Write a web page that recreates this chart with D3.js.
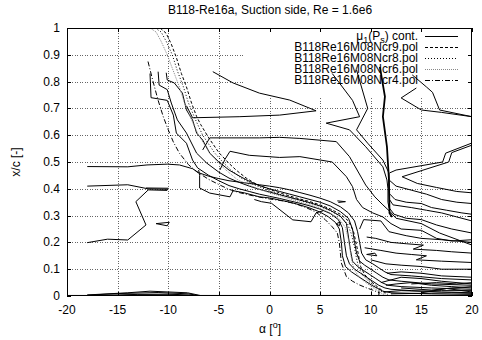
<!DOCTYPE html>
<html><head><meta charset="utf-8">
<script src="https://cdn.jsdelivr.net/npm/d3@7"></script>
<style>body{margin:0;background:#fff}svg{display:block;font-family:"Liberation Sans",Arial,Helvetica,sans-serif}</style>
</head><body><svg id="c" width="482" height="340"></svg>
<script>
// ---- axes / labels ----
const alphaTicks = [-20,-15,-10,-5,0,5,10,15,20];
const xcTicks = [0,0.1,0.2,0.3,0.4,0.5,0.6,0.7,0.8,0.9,1];
const xcTickLabels = ["0","0.1","0.2","0.3","0.4","0.5","0.6","0.7","0.8","0.9","1"];
const titleText = "B118-Re16a, Suction side, Re = 1.6e6";
const polarNames = ["B118Re16M08Ncr9.pol","B118Re16M08Ncr8.pol","B118Re16M08Ncr6.pol","B118Re16M08Ncr4.pol"];

// ---- polar transition curves [alpha, x/c] ----
const ncr9 = [[-10.8,1.0],[-10.2,0.98],[-9.7,0.94],[-9.2,0.89],[-8.7,0.83],[-8.2,0.78],[-7.7,0.72],[-7.2,0.67],[-6.8,0.64],[-6.0,0.59],[-5.0,0.535],[-4.0,0.495],[-3.3,0.47],[-2.3,0.44],[-1.2,0.415],[0,0.398],[1,0.385],[2,0.373],[3,0.362],[4,0.352],[5,0.34],[6,0.325],[7,0.305],[7.8,0.28],[8.3,0.24],[8.6,0.19],[8.8,0.15],[9.0,0.11],[9.4,0.08],[10,0.055],[10.7,0.033],[11.3,0.016],[11.7,0.005]];
const ncr8 = [[-11.3,1.0],[-10.7,0.985],[-10.2,0.95],[-9.6,0.9],[-9.1,0.84],[-8.5,0.78],[-8.0,0.72],[-7.3,0.657],[-6.6,0.6],[-5.4,0.533],[-4.5,0.495],[-3.8,0.47],[-2.8,0.44],[-1.5,0.415],[0,0.392],[1,0.38],[2,0.368],[3,0.357],[4,0.346],[5,0.334],[6,0.318],[7,0.297],[7.7,0.27],[8.1,0.23],[8.4,0.18],[8.6,0.14],[8.8,0.105],[9.2,0.078],[9.8,0.055],[10.5,0.033],[11.1,0.016],[11.5,0.005]];
const ncr6 = [[-11.8,1.0],[-11.2,0.985],[-10.7,0.95],[-10.1,0.9],[-9.5,0.84],[-8.9,0.78],[-8.4,0.72],[-7.7,0.657],[-7.0,0.6],[-5.9,0.533],[-5.0,0.495],[-4.3,0.47],[-3.2,0.435],[-1.8,0.41],[0,0.385],[1,0.374],[2,0.362],[3,0.351],[4,0.34],[5,0.327],[6,0.31],[6.9,0.287],[7.5,0.255],[7.8,0.21],[8.0,0.16],[8.2,0.12],[8.5,0.09],[9.0,0.065],[9.7,0.045],[10.4,0.027],[11,0.012],[11.3,0.004]];
const ncr4 = [[-12.0,0.875],[-11.5,0.80],[-11.0,0.73],[-10.5,0.67],[-10.0,0.62],[-9.5,0.575],[-8.9,0.533],[-8.0,0.49],[-7.2,0.464],[-6,0.435],[-4.9,0.414],[-4,0.398],[-3,0.386],[-2,0.377],[-1,0.369],[0,0.362],[1.3,0.355],[2.5,0.345],[3.6,0.33],[4.6,0.313],[5.5,0.285],[6.2,0.258],[6.7,0.235],[6.9,0.198],[7.0,0.16],[7.1,0.123],[7.6,0.072],[8.2,0.055],[8.9,0.041],[9.6,0.03],[10.2,0.022],[10.9,0.011]];

// ---- mu1(Ps) contour lines [alpha, x/c] ----
const leftContours = [
  [[-18,0.41],[-14,0.415],[-12,0.40],[-10,0.398]],
  [[-12.2,0.403],[-10,0.402]],
  [[-12,0.396],[-10.1,0.394]],
  [[-12,0.395],[-13.2,0.352],[-12.2,0.265],[-14,0.209],[-16,0.212],[-18,0.199]],
  [[-11.2,0.27],[-9.9,0.275],[-10.1,0.262],[-11.2,0.27]],
  [[-18,0.004],[-14,0.012],[-11.8,0.018],[-8.1,0.012],[-6.6,0.0]],
  [[-18,0.003],[-15,0.009],[-11,0.013],[-8,0.008],[-6.9,0.001]],
  [[-17,0.002],[-13,0.006],[-10,0.007],[-7.5,0.003]],
  [[-16,0.001],[-12,0.004],[-9,0.004]]
];
const bandContours = [
  [[-11.8,0.83],[-11.7,0.74],[-10.1,0.73],[-9.5,0.675],[-9.2,0.608],[-8.2,0.57],[-7.6,0.507],[-7.1,0.478],[-6,0.45],[-5,0.43],[-4,0.412],[-3,0.4],[-2,0.39],[-1,0.38],[0,0.372],[1,0.364],[2,0.355],[3,0.346],[4,0.336],[5,0.324],[6,0.308],[6.8,0.285],[7.2,0.255],[7.4,0.2],[7.6,0.15],[7.9,0.12],[8.4,0.1],[9.0,0.085],[9.6,0.07],[10.2,0.055],[10.8,0.04],[11.4,0.03],[12,0.025],[14,0.02],[17,0.015],[20,0.012]],
  [[-11.0,0.837],[-10.9,0.787],[-10.1,0.77],[-9.7,0.72],[-9.1,0.657],[-8.2,0.608],[-7.2,0.533],[-6.2,0.496],[-5,0.462],[-4,0.44],[-3,0.424],[-2,0.41],[-1,0.398],[0,0.388],[1,0.378],[2,0.368],[3,0.358],[4,0.348],[5,0.336],[6,0.32],[7,0.298],[7.6,0.27],[7.8,0.22],[8.0,0.17],[8.2,0.13],[8.7,0.11],[9.3,0.095],[9.9,0.08],[10.5,0.065],[11.1,0.05],[11.7,0.04],[13,0.035],[16,0.03],[20,0.025]],
  [[-10.2,0.833],[-10.1,0.806],[-9.4,0.795],[-8.6,0.757],[-8.2,0.694],[-7.6,0.657],[-7.2,0.608],[-6.6,0.582],[-5.9,0.533],[-5,0.5],[-4,0.47],[-3,0.448],[-2,0.428],[-1,0.412],[0,0.4],[1,0.39],[2,0.38],[3,0.37],[4,0.36],[5,0.35],[6,0.336],[7,0.315],[7.8,0.29],[8.2,0.25],[8.4,0.2],[8.6,0.16],[8.9,0.13],[9.4,0.115],[10,0.1],[10.6,0.085],[11.2,0.07],[11.8,0.06],[13,0.055],[16,0.045],[20,0.04]],
  [[-18,0.483],[-14,0.482],[-12.1,0.489],[-10.1,0.492],[-8.9,0.489],[-7.6,0.475],[-7.0,0.46],[-6,0.447],[-5,0.438],[-4,0.43],[-3,0.425],[-2,0.42],[-1,0.415],[0,0.41],[1,0.404],[2,0.396],[3,0.386],[4,0.376],[5,0.365],[6,0.352],[7,0.333],[7.8,0.31],[8.4,0.28],[8.7,0.24],[8.9,0.2],[9.1,0.16],[9.5,0.135],[10.2,0.12],[10.8,0.105],[11.4,0.09],[12,0.08],[14,0.075],[17,0.065],[20,0.06]],
  [[-7.0,0.47],[-6.9,0.45],[-6.9,0.403],[-5.9,0.384],[-3.9,0.37],[-3.6,0.393],[-2.5,0.385],[-1,0.37],[0,0.366],[1,0.358],[2,0.35],[3,0.34],[4,0.328],[5,0.313],[5.8,0.296],[6.5,0.275],[6.9,0.25],[7.1,0.2],[7.2,0.15],[7.5,0.11],[8.1,0.09],[8.8,0.072],[9.5,0.055],[10.1,0.04],[10.7,0.028],[11.2,0.018],[12,0.012],[16,0.008],[20,0.006]],
  [[-1.5,0.36],[-0.8,0.352],[0.2,0.346],[2.3,0.284],[4.1,0.277],[4.6,0.31],[5.3,0.318]],
  [[6.7,0.355],[7.5,0.352],[6.8,0.349]],
  [[6.6,0.27],[7.0,0.276],[6.9,0.262],[6.6,0.27]]
];
const upperContours = [
  [[-6.6,0.545],[-5.9,0.59],[-1,0.59],[1,0.592],[3,0.588],[6.6,0.576],[7.9,0.52],[9.5,0.414],[10.4,0.37],[11.2,0.34],[11.9,0.315],[12.5,0.29],[15,0.27],[16.8,0.235],[20,0.19]],
  [[-4.9,0.47],[-4.4,0.51],[-3.9,0.54],[-2,0.525],[1,0.517],[3,0.52],[6.2,0.5],[7.6,0.445],[8.2,0.408],[8.6,0.36],[9.2,0.33],[10.2,0.31],[11.2,0.295],[12,0.27],[13,0.25],[15,0.245],[16.5,0.215],[18,0.205],[20,0.21]],
  [[-5.6,0.837],[-3.6,0.795],[-1,0.757],[2,0.731],[4.6,0.691],[1,0.675],[-3,0.669],[-7.6,0.665],[-8.2,0.71]],
  [[6.2,0.83],[8.2,0.73],[8.9,0.669],[5.6,0.645],[7.9,0.62],[9.5,0.557],[11.2,0.482],[11.6,0.433],[11.7,0.40],[11.7,0.35],[11.8,0.33],[12.3,0.305],[13.5,0.29],[15,0.285],[16.5,0.265],[18,0.25],[20,0.235]],
  [[8.6,0.843],[9.7,0.70],[8.6,0.62],[9.7,0.57],[11.2,0.507],[11.8,0.459],[11.8,0.40],[11.85,0.36],[12.2,0.34],[14,0.33],[15.5,0.32],[17,0.31],[18.5,0.295],[20,0.28]],
  [[14.1,0.825],[15.5,0.78],[16.1,0.76],[16.8,0.694],[20,0.669]],
  [[14.5,0.776],[13,0.739],[15,0.694],[17,0.685],[20,0.669]],
  [[20,0.571],[17.4,0.533],[17.1,0.50],[12.5,0.47],[11.9,0.46]],
  [[20,0.563],[18,0.535],[17.7,0.50],[13.1,0.445],[14.6,0.42],[16.5,0.405],[18.5,0.39],[20,0.385]],
  [[11.9,0.43],[12.5,0.41],[14,0.395],[15.5,0.38],[17,0.36],[18.5,0.35],[20,0.345]],
  [[11.9,0.38],[12.4,0.36],[13.5,0.35],[15,0.345],[16,0.33],[17.5,0.32],[19,0.31],[20,0.305]]
];
const thickContour = [[10.9,0.855],[11.4,0.744],[11.2,0.669],[11.6,0.557],[11.8,0.433],[11.85,0.31],[12.1,0.295]];
const lowerRightContours = [
  [[8.9,0.25],[9.3,0.285],[11.0,0.28],[11.8,0.24],[13.5,0.225],[15,0.215],[17,0.21],[20,0.2]],
  [[9.6,0.22],[10.5,0.215],[12,0.2],[13.5,0.195],[15.2,0.19],[14.2,0.175],[16.5,0.17],[18,0.165],[20,0.16]],
  [[9.4,0.18],[11,0.17],[12.5,0.16],[14,0.155],[15.5,0.15],[14.5,0.135],[17,0.13],[20,0.125]],
  [[10,0.135],[11.5,0.12],[13,0.115],[15,0.11],[17,0.1],[20,0.1]],
  [[9.6,0.155],[10.4,0.16],[10.6,0.15],[9.6,0.155]],
  [[11,0.05],[12,0.06],[13,0.07],[15,0.065],[17,0.055],[20,0.045]],
  [[11.5,0.04],[12.5,0.045],[14,0.05],[16,0.04],[18,0.035],[20,0.03]],
  [[11.3,0.015],[13,0.02],[15,0.018],[17,0.02],[20,0.02]],
  [[11.6,0.085],[13,0.09],[15,0.085],[17,0.075],[20,0.07]],
  [[10.8,0.02],[10.8,0.002],[11.6,0.002]],
  [[12,0.008],[15,0.01],[18,0.012],[20,0.01]],
  [[13,0.03],[16,0.022],[18,0.03],[20,0.035]],
  [[14,0.045],[16.5,0.05],[18.5,0.045],[20,0.05]],
  [[15,0.012],[17.5,0.028],[20,0.015]],
  [[-20,0.002],[20,0.002]]
];

// ---- drawing ----
const L = 67, R = 472, T = 28, B = 296;
const x = d3.scaleLinear().domain([-20,20]).range([L,R]);
const y = d3.scaleLinear().domain([0,1]).range([B,T]);
const svg = d3.select("#c");
const line = d3.line().x(d=>x(d[0])).y(d=>y(d[1]));

svg.append("defs").append("clipPath").attr("id","pc").append("rect")
  .attr("x",L).attr("y",T).attr("width",R-L).attr("height",B-T);

// grid
const grid = svg.append("g").attr("stroke","#666").attr("stroke-width",1).attr("stroke-dasharray","1,1.5").attr("shape-rendering","crispEdges");
alphaTicks.slice(1,-1).forEach(a=>grid.append("line").attr("x1",Math.round(x(a))+0.5).attr("x2",Math.round(x(a))+0.5).attr("y1",T).attr("y2",B));
xcTicks.slice(1,-1).forEach(v=>grid.append("line").attr("y1",Math.round(y(v))+0.5).attr("y2",Math.round(y(v))+0.5).attr("x1",L).attr("x2",R));

// key box hides grid
svg.append("rect").attr("x",243).attr("y",T+1).attr("width",R-243-1).attr("height",97-T).attr("fill","#fff");

const plot = svg.append("g").attr("clip-path","url(#pc)").attr("fill","none");
const drawSet = (set, w) => set.forEach(p=>plot.append("path").attr("d",line(p)).attr("stroke","#000").attr("stroke-width",w));
drawSet(leftContours,1);
drawSet(bandContours,1);
drawSet(upperContours,1);
drawSet(lowerRightContours,1);
plot.append("path").attr("d",line(thickContour)).attr("stroke","#000").attr("stroke-width",1.8);

const polarStyles = [
  {data:ncr9, dash:"3,2", color:"#000", w:1},
  {data:ncr8, dash:"1,2", color:"#000", w:1},
  {data:ncr6, dash:"1,1", color:"#888", w:1},
  {data:ncr4, dash:"5,2,1,2", color:"#000", w:1}
];
polarStyles.forEach(s=>plot.append("path").attr("d",line(s.data)).attr("stroke",s.color).attr("stroke-width",s.w).attr("stroke-dasharray",s.dash));

// frame
svg.append("rect").attr("x",L+0.5).attr("y",T+0.5).attr("width",R-L-1).attr("height",B-T-1)
  .attr("fill","none").attr("stroke","#000").attr("stroke-width",1).attr("shape-rendering","crispEdges");

// ticks
const tk = svg.append("g").attr("stroke","#000").attr("shape-rendering","crispEdges");
alphaTicks.forEach(a=>{const px=Math.round(x(a))+0.5;
  tk.append("line").attr("x1",px).attr("x2",px).attr("y1",B).attr("y2",B-4);
  tk.append("line").attr("x1",px).attr("x2",px).attr("y1",T).attr("y2",T+4);});
xcTicks.forEach(v=>{const py=Math.round(y(v))+0.5;
  tk.append("line").attr("y1",py).attr("y2",py).attr("x1",L).attr("x2",L+4);
  tk.append("line").attr("y1",py).attr("y2",py).attr("x1",R).attr("x2",R-4);});

// tick labels
const lab = svg.append("g").attr("font-size",12).attr("fill","#000");
alphaTicks.forEach(a=>lab.append("text").attr("x",x(a)).attr("y",314).attr("text-anchor","middle").text(a));
xcTicks.forEach((v,i)=>lab.append("text").attr("x",60).attr("y",y(v)+4).attr("text-anchor","end").text(xcTickLabels[i]));

// title and axis labels
svg.append("text").attr("x",270).attr("y",14).attr("text-anchor","middle").attr("font-size",12).text(titleText);
const xl = svg.append("text").attr("x",270).attr("y",333).attr("text-anchor","middle").attr("font-size",12);
xl.append("tspan").text("\u03b1 [");
xl.append("tspan").attr("font-size",9).attr("dy",-5).text("o");
xl.append("tspan").attr("dy",5).text("]");
svg.append("text").attr("transform","translate(20,162) rotate(-90)").attr("text-anchor","middle").attr("font-size",12).text("x/c [-]");

// legend
const lx = 418, ls = 425, le = 458, ly0 = 36, ldy = 11;
const lt = svg.append("text").attr("x",lx).attr("y",ly0+4).attr("text-anchor","end").attr("font-size",12);
lt.append("tspan").text("\u03bc");
lt.append("tspan").attr("font-size",9).attr("dy",3).text("1");
lt.append("tspan").attr("dy",-3).text("(P");
lt.append("tspan").attr("font-size",9).attr("dy",3).text("s");
lt.append("tspan").attr("dy",-3).text(") cont.");
svg.append("line").attr("x1",ls).attr("x2",le).attr("y1",ly0+0.5).attr("y2",ly0+0.5).attr("stroke","#000");
polarNames.forEach((n,i)=>{
  const yy = ly0 + ldy*(i+1);
  svg.append("text").attr("x",lx).attr("y",yy+4).attr("text-anchor","end").attr("font-size",12).text(n);
  svg.append("line").attr("x1",ls).attr("x2",le).attr("y1",Math.round(yy)+0.5).attr("y2",Math.round(yy)+0.5)
    .attr("stroke",polarStyles[i].color).attr("stroke-dasharray",polarStyles[i].dash);
});
</script></body></html>
